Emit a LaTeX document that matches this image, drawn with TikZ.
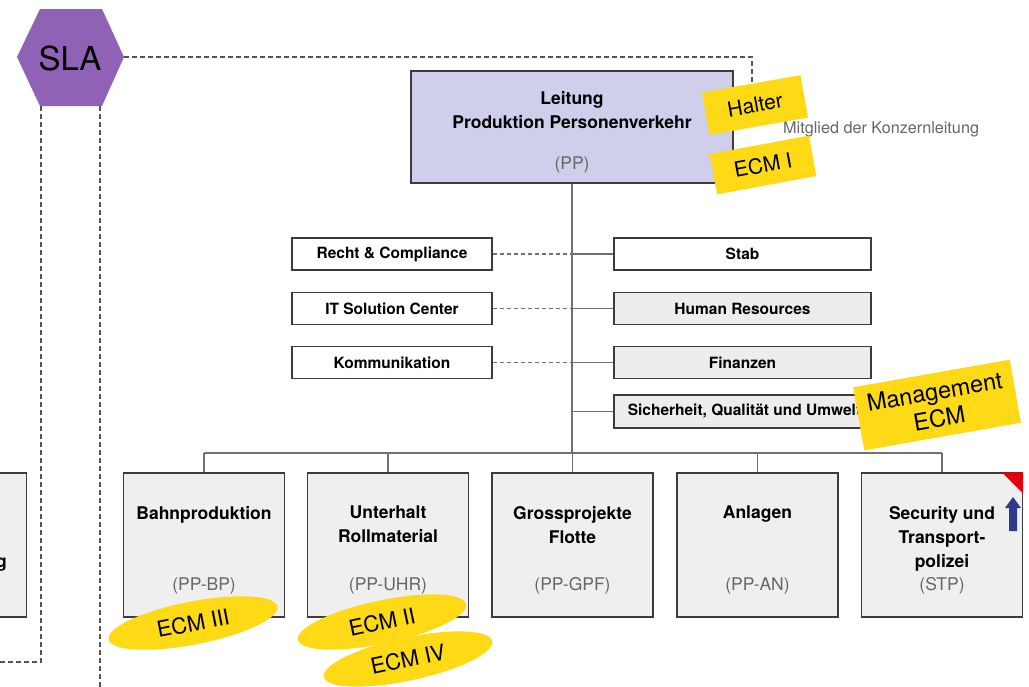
\documentclass[tikz,border=0pt]{standalone}
\usepackage{fontspec}
\setmainfont{TeX Gyre Heros}
\usetikzlibrary{shapes.geometric}

\definecolor{slapurple}{HTML}{9062B6}
\definecolor{ppfill}{HTML}{CFCFEC}
\definecolor{unitfill}{HTML}{EFEFEF}
\definecolor{stafffill}{HTML}{EDEDED}
\definecolor{boxline}{HTML}{3C3C3C}
\definecolor{wire}{HTML}{707070}
\definecolor{framegray}{HTML}{555555}
\definecolor{codegray}{HTML}{666666}
\definecolor{sticky}{HTML}{FDD916}
\definecolor{alertred}{HTML}{E3000F}
\definecolor{navyarrow}{HTML}{2E3A8C}

\begin{document}
\begin{tikzpicture}[x=1pt,y=-1pt,
  frame/.style={draw=framegray, line width=1.6pt, dash pattern=on 5pt off 3pt},
  wireline/.style={draw=wire, line width=1.2pt},
  dottedwire/.style={draw=wire, line width=1.2pt, dash pattern=on 4pt off 3pt},
  unitbox/.style={draw=boxline, line width=1.2pt, fill=unitfill, minimum width=161pt, minimum height=144pt, inner sep=0pt},
  staffbox/.style={draw=boxline, line width=1.2pt, minimum height=32pt, inner sep=0pt, font=\fontsize{15.5}{18}\bfseries\selectfont},
  leftstaff/.style={staffbox, fill=white, minimum width=200pt},
  rightstaff/.style={staffbox, minimum width=257pt},
  title/.style={inner sep=0pt, align=center, anchor=north, font=\fontsize{17.5}{24}\bfseries\selectfont},
  code/.style={inner sep=0pt, anchor=base, text=codegray, font=\fontsize{17.5}{24}\selectfont},
  sticker/.style={fill=sticky, inner sep=0pt, align=center, font=\fontsize{21}{25}\selectfont},
  tag/.style={ellipse, fill=sticky, inner sep=0pt, minimum width=172pt, minimum height=43pt, font=\fontsize{22}{25}\selectfont}
]
\useasboundingbox (0,0) rectangle (1029,686);
\clip (0,0) rectangle (1029,686);
\fill[white] (0,0) rectangle (1029,686);

% SLA hexagon with its dashed frame
\fill[slapurple] (17,57) -- (40,9) -- (102,9) -- (124,57) -- (102,106) -- (40,106) -- cycle;
\node[inner sep=0pt, font=\fontsize{33}{36}\selectfont] (sla) at (70,58) {SLA};
\coordinate (slaE) at (124,57);
\coordinate (slaSW) at (41,106);
\coordinate (slaSE) at (100,106);
\draw[frame] (slaE) -- (752,57) -- (752,100);
\draw[frame] (slaSW) -- (41,662) -- (-5,662);
\draw[frame] (slaSE) -- (100,690);

% neighbouring unit, mostly off the page
\node[unitbox, anchor=east] (fv) at (27,545) {};
\node[title, anchor=base east] (fvtext) at (7,567) {g};

% head of the division
\node[draw=boxline, line width=1.2pt, fill=ppfill, minimum width=322pt, minimum height=112pt] (pp) at (572,127) {};
\node[title] (pptitle) at (572,91) {Leitung\\Produktion Personenverkehr};
\node[code] (ppcode) at (572,169) {(PP)};
\node[anchor=base west, inner sep=0pt, text=codegray, font=\fontsize{16.2}{18}\selectfont] (kl) at (783,133) {Mitglied der Konzernleitung};

% staff units
\node[leftstaff] (recht) at (392,254) {Recht \& Compliance};
\node[leftstaff] (itsc) at (392,308.5) {IT Solution Center};
\node[leftstaff] (komm) at (392,362.5) {Kommunikation};
\node[rightstaff, fill=white] (stab) at (742.5,254) {Stab};
\node[rightstaff, fill=stafffill] (hr) at (742.5,308.5) {Human Resources};
\node[rightstaff, fill=stafffill] (fin) at (742.5,362.5) {Finanzen};
\node[rightstaff, fill=stafffill, minimum height=33pt] (squ) at (742.5,411.5) {\hspace{4pt}Sicherheit, Qualität und Umwelt};

% business units
\node[unitbox] (bp) at (204,545) {};
\node[unitbox] (uhr) at (388,545) {};
\node[unitbox] (gpf) at (572.5,545) {};
\node[unitbox] (an) at (757.5,545) {};
\node[unitbox] (stp) at (942,545) {};

\node[title] (bpt) at (204,506) {Bahnproduktion};
\node[title] (uhrt) at (388,506) {Unterhalt\\Rollmaterial};
\node[title] (gpft) at (572.5,506) {Grossprojekte\\Flotte};
\node[title] (ant) at (757.5,506) {Anlagen};
\node[title] (stpt) at (942,506) {Security und\\Transport-\\polizei};

\node[code] (bpc) at (204,590) {(PP-BP)};
\node[code] (uhrc) at (388,590) {(PP-UHR)};
\node[code] (gpfc) at (572.5,590) {(PP-GPF)};
\node[code] (anc) at (757.5,590) {(PP-AN)};
\node[code] (stpc) at (942,590) {(STP)};

% corner flag and arrow on the STP box
\fill[alertred] (stp.north east) -- ++(-21,0) -- ++(21,21) -- cycle;
\fill[navyarrow] (1013,497) -- (1021,508) -- (1017,508) -- (1017,531) -- (1009,531) -- (1009,508) -- (1005,508) -- cycle;

% reporting lines
\coordinate (busW) at (204,453);
\coordinate (busE) at (942,453);
\draw[wireline] (pp.south) -- (pp.south |- busW);
\draw[wireline] (busW) -- (busE);
\foreach \u in {bp,uhr,gpf,an,stp}
  \draw[wireline] (\u.north) -- (\u.north |- busW);

\foreach \s in {recht,itsc,komm}
  \draw[dottedwire] (\s.east) -- (\s.east -| pp.south);
\foreach \s in {stab,hr,fin,squ}
  \draw[wireline] (\s.west) -- (\s.west -| pp.south);

% role stickers
\node[sticker, minimum width=100pt, minimum height=43pt, rotate=10] (halter) at (755,105) {Halter};
\node[sticker, minimum width=101pt, minimum height=41pt, rotate=10.5] (ecmone) at (763,165) {ECM I};
\node[sticker, minimum width=159pt, minimum height=64pt, rotate=10, font=\fontsize{23.5}{27}\selectfont] (mgmt) at (937,405) {Management\\ECM};

\node[tag, rotate=11] (ecmthree) at (193,623) {ECM III};
\node[tag, rotate=12] (ecmfour) at (408,659) {ECM IV};
\node[tag, rotate=12] (ecmtwo) at (382,622) {ECM II};
\end{tikzpicture}
\end{document}
